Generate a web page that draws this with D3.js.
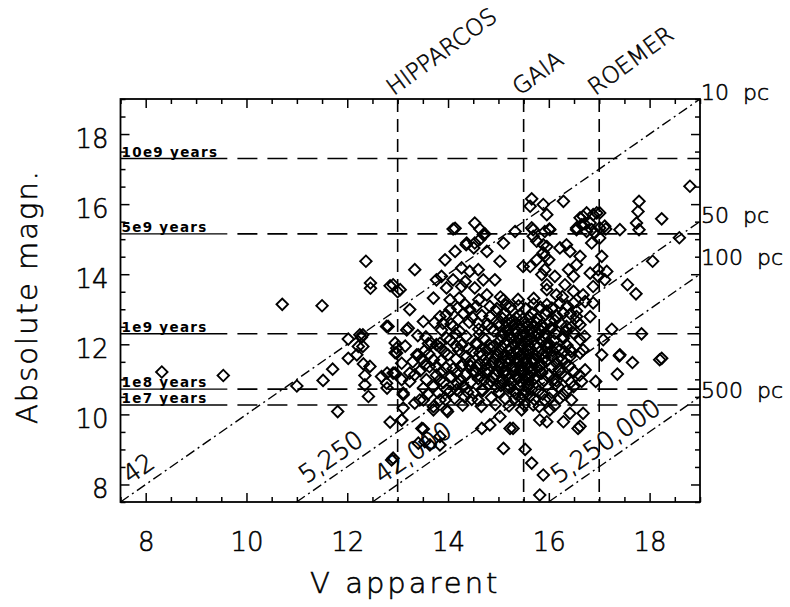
<!DOCTYPE html>
<html>
<head>
<meta charset="utf-8">
<script src="https://cdn.jsdelivr.net/npm/d3@7"></script>
<style>
  body { margin: 0; background: #fff; }
  text { font-family: "DejaVu Sans", "Liberation Sans", sans-serif; fill: #000; }
  .thin { font-weight: 200; stroke: #000; stroke-width: 0.55px; }
</style>
</head>
<body>
<svg id="chart" width="790" height="607"></svg>
<script>
// axis ticks
const xTicks = [8, 10, 12, 14, 16, 18];
const yTicks = [8, 10, 12, 14, 16, 18];

// horizontal age lines
const ageLabels = ["10e9 years", "5e9 years", "1e9 years", "1e8 years", "1e7 years"];
const ageMag = [17.3, 15.15, 12.3, 10.72, 10.27];

// mission limiting magnitudes
const missions = ["HIPPARCOS", "GAIA", "ROEMER"];
const missionLimit = [13, 15.5, 17];

// distance lines (M = V - 5 log10(d/10))
const distPc = [10, 50, 100, 500];
const distLabels = ["10  pc", "50  pc", "100  pc", "500  pc"];
const distLabelMag = [19.2, 15.7, 14.5, 10.7];
const starCounts = ["42", "5,250", "42,000", "5,250,000"];

// stars [V apparent, absolute magnitude]
const sparseStars = [
  [8.32,11.21],[9.54,11.11],[10.71,13.14],[11.50,13.10],[11.00,10.81],[11.81,10.08],[11.52,10.97],[11.71,11.29],
  [12.02,12.15],[12.02,11.60],[12.19,11.70],[12.22,11.94],[12.31,11.94],[12.25,12.27],[12.31,12.27],[12.28,12.20],
  [12.32,11.44],[12.45,11.37],[12.35,11.11],[12.35,10.84],[12.42,10.51],[12.68,11.08],[12.78,10.89],[12.79,11.18],
  [12.91,11.18],[12.79,10.75],[12.37,14.37],[12.46,13.75],[12.46,13.60],[12.85,13.67],[13.00,13.50],[12.81,12.51],
  [12.95,11.76],[12.95,12.04],[12.85,9.78],[13.08,9.84],[12.88,8.70],[13.48,9.60],[13.54,9.22],[13.41,9.18],
  [13.64,9.13],[13.84,9.37],[12.78,12.51],[13.18,12.41],[13.67,12.03],[13.38,11.70],[13.54,11.41],[13.77,11.37],
  [13.34,11.13],[13.84,10.99],[13.08,10.99],[13.11,10.56],[13.44,10.41],[13.71,10.22],[13.97,10.13]
];

const upperStars = [
  [14.10,15.29],[14.14,15.31],[14.53,15.46],[14.63,15.29],[14.73,15.15],[14.37,14.89],[14.53,14.89],[14.63,14.99],
  [14.77,14.65],[14.14,14.65],[13.94,14.41],[13.34,14.13],[14.27,14.18],[14.43,14.08],[14.60,14.13],[15.03,14.37],
  [15.10,14.89],[15.33,15.22],[13.87,13.94],[13.77,13.84],[14.10,13.84],[14.34,13.79],[14.70,13.84],[14.93,13.84],
  [13.97,13.61],[14.27,13.65],[14.53,13.61],[14.77,13.41],[13.71,13.32],[14.04,13.27],[13.05,13.56],[12.91,13.70],
  [13.24,12.99],[13.84,12.79],[14.04,12.99],[13.51,12.65],[13.21,12.46],[14.10,12.51],[14.34,13.13],[14.43,12.99],
  [14.83,13.08],[15.10,13.27],[14.83,12.79],[15.63,15.94],[15.89,15.99],[15.96,15.70],[15.69,15.27],[15.92,15.22],
  [15.76,14.94],[15.96,14.79],[15.76,14.41],[15.92,14.51],[15.63,14.22],[15.49,14.22],[15.86,13.99],[15.96,13.70],
  [14.04,12.13],[13.77,11.99],[12.98,11.89],[13.41,11.70],[15.66,16.15],[16.29,16.08],[15.66,15.32],[15.69,15.08],
  [16.02,15.27],[14.70,15.13],[14.51,14.75],[14.36,14.84],[16.62,15.61],[16.75,15.75],[16.95,15.75],[16.55,15.32],
  [16.70,15.44],[16.85,15.27],[17.01,15.32],[17.13,15.29],[17.41,15.27],[17.74,15.46],[17.79,15.27],[17.79,16.08],
  [17.77,15.79],[18.24,15.58],[18.59,15.04],[18.80,16.51],[18.06,14.37],[17.56,13.70],[17.73,13.44]
];

const rightStars = [
  [17.84,12.30],[17.25,12.43],[17.08,12.13],[17.41,11.70],[17.05,11.70],[18.24,11.60],[16.01,15.29],[16.68,15.65],
  [16.88,15.70],[17.01,15.75],[16.82,15.46],[16.65,15.41],[17.11,15.37],[16.55,15.27],[16.75,15.22],[16.91,15.18],
  [16.85,14.89],[17.01,15.03],[16.22,14.75],[16.42,14.65],[16.35,14.84],[15.89,14.84],[15.89,14.61],[16.62,14.51],
  [17.05,14.51],[16.55,14.27],[16.00,14.41],[15.92,14.13],[16.12,13.94],[16.39,14.13],[16.49,13.94],[16.82,14.03],
  [16.98,14.13],[16.98,13.94],[17.15,14.08],[17.11,13.84],[16.88,13.65],[16.68,13.41],[16.32,13.70],[15.96,13.56],
  [16.15,13.41],[16.49,13.51],[15.96,13.13],[16.22,13.18],[16.49,13.18],[16.72,13.22],[16.88,13.18],[16.29,12.89],
  [16.55,12.79],[16.82,12.79],[16.02,12.65],[16.35,12.51],[16.62,12.56],[15.89,12.46],[16.12,12.32],[16.49,12.32],
  [16.62,12.13],[15.96,12.03],[16.22,11.84],[16.45,11.79],[16.68,11.84],[16.06,11.65]
];

const lowerStars = [
  [18.20,11.56],[17.66,11.48],[17.40,11.67],[17.36,11.15],[16.93,10.94],[16.72,11.27],[16.65,10.94],[16.49,10.79],
  [16.45,10.41],[16.29,10.56],[16.22,10.46],[16.02,10.13],[16.42,10.03],[16.68,10.03],[16.29,9.79],[16.58,9.60],
  [16.62,9.66],[15.82,9.84],[15.96,9.79],[15.69,10.27],[15.46,10.13],[15.29,9.60],[15.23,9.60],[15.03,9.94],
  [14.83,9.70],[14.67,9.60],[15.10,9.03],[15.53,9.00],[15.66,8.61],[15.89,8.27],[15.82,7.70],[13.51,9.58],
  [13.84,9.13],[13.71,10.13],[13.99,10.08],[13.11,10.18],[13.08,9.84],[12.91,8.75],[13.34,10.32],[13.51,10.41],
  [13.84,10.41],[12.98,11.75],[13.08,11.46],[12.95,11.18],[13.11,10.61],[13.24,11.18],[13.57,10.99],[13.71,10.79],
  [13.97,10.70],[14.30,10.79],[14.67,10.70],[14.96,10.79],[15.23,10.79],[15.33,10.46],[15.49,10.56],[15.66,10.70],
  [15.92,10.41],[16.19,10.79],[16.09,10.99],[16.25,11.18],[16.15,11.46],[16.42,11.65],[16.42,11.84],[16.62,11.75],
  [15.72,11.56],[15.86,11.18],[15.59,10.99],[15.39,11.08],[15.10,11.18],[14.77,11.18],[14.50,11.22],[14.17,11.18],
  [13.87,11.22],[13.71,11.56],[14.00,11.70],[14.37,11.65],[14.63,11.75],[14.96,11.65],[15.23,11.56],[15.49,11.75],
  [15.96,11.75],[16.15,11.89],[14.90,11.94],[14.57,11.99],[14.17,11.94],[13.84,12.03],[14.43,11.41],[15.03,11.37],
  [15.63,11.37],[14.17,10.70],[14.50,10.61],[15.43,11.27],[13.24,10.94],[13.51,10.75]
];

const coreStars = [
  [14.22,13.32],[14.61,13.27],[15.04,13.35],[15.39,13.28],[15.70,13.31],[16.27,13.36],
  [14.19,13.04],[14.56,13.08],[14.97,13.02],[15.24,13.07],[15.54,13.01],[15.83,13.06],[16.06,13.03],[16.37,13.09],
  [13.96,12.84],[14.31,12.88],[14.67,12.82],[15.11,12.87],[15.42,12.83],[15.67,12.89],[15.94,12.85],[16.16,12.81],[16.43,12.87],
  [13.73,12.62],[14.06,12.58],[14.42,12.63],[14.79,12.57],[15.01,12.61],[15.27,12.64],[15.53,12.58],[15.75,12.62],[16.24,12.59],[16.57,12.63],
  [13.87,12.41],[14.23,12.37],[14.61,12.43],[14.91,12.38],[15.19,12.42],[15.37,12.36],[15.61,12.41],[15.84,12.39],[16.04,12.44],[16.34,12.37],
  [13.56,12.21],[13.97,12.18],[14.36,12.23],[14.71,12.17],[15.06,12.22],[15.24,12.19],[15.47,12.24],[15.66,12.18],[15.91,12.21],[16.29,12.17],[16.71,12.23],
  [13.61,12.02],[14.27,11.98],[14.56,12.04],[14.83,11.97],[15.13,12.03],[15.31,11.99],[15.51,12.05],[15.73,11.98],[16.01,12.01],[16.36,11.97],
  [13.53,11.81],[13.93,11.78],[14.21,11.83],[14.49,11.79],[14.76,11.82],[15.01,11.77],[15.21,11.84],[15.39,11.79],[15.57,11.83],[15.81,11.78],[16.07,11.82],[16.31,11.79],
  [13.47,11.57],[13.86,11.53],[14.16,11.58],[14.44,11.52],[14.71,11.56],[14.93,11.59],[15.14,11.53],[15.33,11.57],[15.53,11.54],[15.71,11.58],[15.94,11.52],[16.26,11.56],
  [13.63,11.36],[13.96,11.33],[14.26,11.38],[14.57,11.34],[14.86,11.37],[15.07,11.32],[15.29,11.36],[15.46,11.39],[15.61,11.33],[15.83,11.37],[16.06,11.34],[16.41,11.38],
  [13.77,11.12],[14.06,11.08],[14.34,11.13],[14.63,11.09],[14.94,11.11],[15.17,11.14],[15.36,11.07],[15.56,11.12],[15.76,11.09],[16.01,11.13],[16.33,11.08],[16.61,11.12],
  [13.91,10.91],[14.19,10.88],[14.46,10.93],[14.81,10.87],[15.04,10.92],[15.26,10.89],[15.43,10.94],[15.61,10.88],[15.87,10.91],[16.13,10.86],[16.44,10.92],
  [14.04,10.66],[14.39,10.63],[14.69,10.68],[15.01,10.64],[15.31,10.67],[15.54,10.62],[15.79,10.66],[16.06,10.63],[16.36,10.68],
  [14.13,10.46],[14.47,10.43],[14.86,10.48],[15.14,10.44],[15.46,10.47],[15.71,10.43],[16.01,10.46],
  [14.29,10.26],[14.66,10.23],[14.94,10.28],[15.21,10.24],[15.51,10.27],[15.81,10.22],[16.11,10.25],
  [15.08,12.74],[15.22,12.71],[15.35,12.76],[15.48,12.72],[15.62,12.77],[15.76,12.73],
  [15.02,12.52],[15.15,12.49],[15.29,12.54],[15.44,12.48],[15.57,12.53],[15.71,12.50],[15.86,12.55],
  [15.09,12.31],[15.21,12.28],[15.33,12.33],[15.52,12.29],[15.68,12.32],[15.79,12.27],
  [15.04,12.12],[15.18,12.09],[15.41,12.13],[15.57,12.08],[15.61,12.14],[15.85,12.10],
  [15.07,11.92],[15.24,11.89],[15.46,11.93],[15.63,11.88],[15.78,11.92],
  [15.11,11.69],[15.26,11.72],[15.43,11.67],[15.59,11.71],[15.74,11.68],[15.88,11.73],
  [15.02,11.47],[15.19,11.44],[15.38,11.49],[15.55,11.45],[15.69,11.48],[15.85,11.43],
  [15.12,11.24],[15.31,11.21],[15.48,11.26],[15.66,11.22],[15.82,11.25],
  [15.08,11.02],[15.22,10.99],[15.39,11.03],[15.52,10.98],[15.71,11.01],[15.90,10.97],
  [14.62,11.45],[14.78,11.28],[14.88,11.05],[14.72,10.98],[14.55,11.21],[14.90,11.50],[14.68,11.70],[14.83,11.88],
  [16.12,12.68],[16.28,12.22],[16.18,11.58],[16.20,11.28],[15.96,12.95],[16.05,12.48],
  [14.48,12.78],[14.62,12.28],[14.40,11.88],[14.30,11.42],[14.25,11.00],[14.10,11.30],
  [15.15,12.62],[15.32,12.44],[15.50,12.38],[15.66,12.60],[15.80,12.45],[15.28,12.18],[15.45,12.02],[15.60,11.97],
  [15.36,11.82],[15.52,11.62],[15.67,11.55],[15.19,11.58],[15.30,11.38],[15.46,11.18],[15.62,11.10],[15.76,11.35],
  [15.92,11.62],[15.98,11.90],[15.93,12.30],[15.42,10.82],[15.58,10.78],[15.20,10.76],[14.98,11.25],[14.98,11.70],
  [14.75,11.42],[14.60,11.02],[14.45,11.38],[14.85,10.95],[15.05,10.82],[15.35,10.58],[15.62,10.52],[15.88,10.58],
  [16.15,10.96],[16.32,11.46],[16.50,11.22],[16.10,12.10],[16.45,12.50],[16.55,12.95],[15.70,13.15],[15.40,13.10],
  [15.15,13.12],[14.85,12.45],[14.95,12.95],[14.60,12.60],[14.20,12.70],[13.85,11.90],[13.62,11.72],[13.45,11.25],
  [13.80,10.62],[13.60,10.58],[13.95,10.42],[14.33,10.50],[14.60,10.40],[13.40,12.25],[13.30,11.50],[13.15,11.95],
  [13.90,12.60],[14.15,12.30]
];

const stars = sparseStars.concat(upperStars, rightStars, lowerStars, coreStars);

const svg = d3.select("#chart");

const x = d3.scaleLinear().domain([7.5, 19]).range([120.5, 700]);
const y = d3.scaleLinear().domain([7.5, 19]).range([502, 99]);

const minorX = d3.range(7.5, 19.01, 0.5).filter(v => !xTicks.includes(v));
const minorY = d3.range(7.5, 19.01, 0.5).filter(v => !yTicks.includes(v));

// frame
svg.append("rect")
  .attr("x", x(7.5)).attr("y", y(19))
  .attr("width", x(19) - x(7.5)).attr("height", y(7.5) - y(19))
  .attr("fill", "none").attr("stroke", "#000").attr("stroke-width", 1.8);

function styleAxis(g) {
  g.select(".domain").remove();
  g.selectAll(".tick line").attr("stroke", "#000").attr("stroke-width", 1.5);
}

// major ticks, all four sides
svg.append("g").attr("transform", `translate(0,${y(7.5)})`)
  .call(d3.axisBottom(x).tickValues(xTicks).tickSize(-9).tickPadding(31).tickFormat(d3.format("d")))
  .call(styleAxis)
  .call(g => g.selectAll("text").attr("class", "thin").attr("font-size", 26)
    .attr("font-family", "DejaVu Sans"));

svg.append("g").attr("transform", `translate(${x(7.5)},0)`)
  .call(d3.axisLeft(y).tickValues(yTicks).tickSize(-9).tickPadding(12).tickFormat(d3.format("d")))
  .call(styleAxis)
  .call(g => g.selectAll("text").attr("class", "thin").attr("font-size", 26)
    .attr("font-family", "DejaVu Sans").attr("dy", "0.5em"));

svg.append("g").attr("transform", `translate(0,${y(19)})`)
  .call(d3.axisTop(x).tickValues(xTicks).tickSize(-9).tickFormat(""))
  .call(styleAxis);

svg.append("g").attr("transform", `translate(${x(19)},0)`)
  .call(d3.axisRight(y).tickValues(yTicks).tickSize(-9).tickFormat(""))
  .call(styleAxis);

// minor ticks
svg.append("g").attr("transform", `translate(0,${y(7.5)})`)
  .call(d3.axisBottom(x).tickValues(minorX).tickSize(-5).tickFormat("")).call(styleAxis);
svg.append("g").attr("transform", `translate(0,${y(19)})`)
  .call(d3.axisTop(x).tickValues(minorX).tickSize(-5).tickFormat("")).call(styleAxis);
svg.append("g").attr("transform", `translate(${x(7.5)},0)`)
  .call(d3.axisLeft(y).tickValues(minorY).tickSize(-5).tickFormat("")).call(styleAxis);
svg.append("g").attr("transform", `translate(${x(19)},0)`)
  .call(d3.axisRight(y).tickValues(minorY).tickSize(-5).tickFormat("")).call(styleAxis);

// axis titles
svg.append("text").attr("class", "thin")
  .attr("x", (x(7.5) + x(19)) / 2 - 5).attr("y", 593)
  .attr("text-anchor", "middle")
  .attr("font-size", 29).attr("letter-spacing", 3)
  .text("V apparent");

svg.append("text").attr("class", "thin")
  .attr("transform", `translate(37,${(y(7.5) + y(19)) / 2 - 4}) rotate(-90)`)
  .attr("text-anchor", "middle")
  .attr("font-size", 29).attr("letter-spacing", 2)
  .text("Absolute magn.");

// age lines: short solid lead under the label, dashed after
const ages = svg.append("g");
ages.selectAll("line.lead").data(ageMag).enter().append("line")
  .attr("x1", x(7.5)).attr("x2", x(9.62))
  .attr("y1", d => y(d)).attr("y2", d => y(d))
  .attr("stroke", "#000").attr("stroke-width", 1.4);
ages.selectAll("line.dash").data(ageMag).enter().append("line")
  .attr("x1", x(9.82)).attr("x2", x(19))
  .attr("y1", d => y(d)).attr("y2", d => y(d))
  .attr("stroke", "#000").attr("stroke-width", 1.6)
  .attr("stroke-dasharray", "20,10");
ages.selectAll("text").data(ageLabels).enter().append("text")
  .attr("x", x(7.5) + 1).attr("y", (d, i) => y(ageMag[i]) - 2)
  .attr("font-size", 13.5).attr("font-weight", "bold").attr("letter-spacing", 1.3)
  .text(d => d);

// mission limits
const miss = svg.append("g");
miss.selectAll("line").data(missionLimit).enter().append("line")
  .attr("x1", d => x(d)).attr("x2", d => x(d))
  .attr("y1", y(19)).attr("y2", y(7.5))
  .attr("stroke", "#000").attr("stroke-width", 1.6)
  .attr("stroke-dasharray", "13,7");
miss.selectAll("text").data(missions).enter().append("text").attr("class", "thin")
  .attr("transform", (d, i) => `translate(${x(missionLimit[i]) - 4},${y(19) - 3}) rotate(-36)`)
  .attr("font-size", 23)
  .text(d => d);

// distance lines
const slopeDeg = Math.atan2(y(7.5) - y(8.5), x(8.5) - x(7.5)) * 180 / Math.PI;
const dist = svg.append("g");
dist.selectAll("line").data(distPc).enter().append("line")
  .attr("x1", d => x(7.5 + 5 * Math.log10(d / 10))).attr("y1", y(7.5))
  .attr("x2", x(19)).attr("y2", d => y(19 - 5 * Math.log10(d / 10)))
  .attr("stroke", "#000").attr("stroke-width", 1.4)
  .attr("stroke-dasharray", "10,4,2,4");
dist.selectAll("text.count").data(starCounts).enter().append("text").attr("class", "thin")
  .attr("transform", (d, i) => `translate(${x(7.5 + 5 * Math.log10(distPc[i] / 10))},${y(7.5)}) rotate(${-slopeDeg})`)
  .attr("x", 18).attr("y", -9)
  .attr("font-size", 25)
  .text(d => d);
dist.selectAll("text.pc").data(distLabels).enter().append("text").attr("class", "thin")
  .attr("x", x(19) + 1).attr("y", (d, i) => y(distLabelMag[i]))
  .attr("dy", "0.36em")
  .attr("font-size", 22)
  .style("white-space", "pre")
  .text(d => d);

// stars
const diamond = d3.symbol().type(d3.symbolSquare).size(66);
svg.append("g").selectAll("path").data(stars).enter().append("path")
  .attr("d", diamond)
  .attr("transform", d => `translate(${x(d[0])},${y(d[1])}) rotate(45)`)
  .attr("fill", "none").attr("stroke", "#000").attr("stroke-width", 1.9);
</script>
</body>
</html>
